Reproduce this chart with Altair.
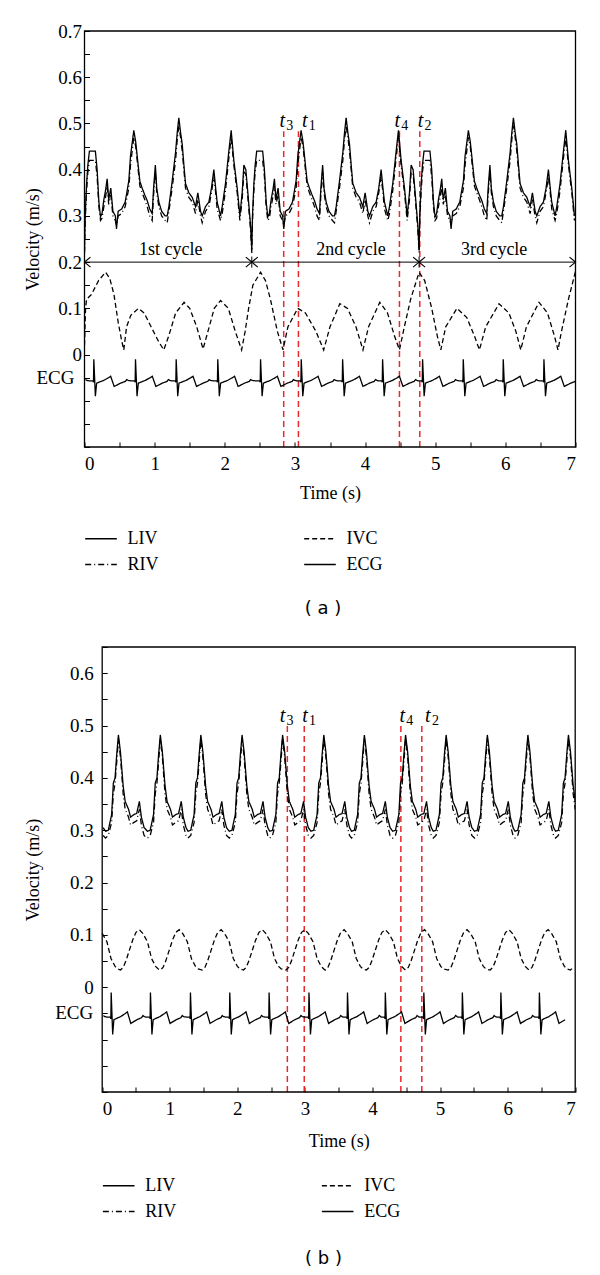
import altair as alt
import pandas as pd

SERIF = "Liberation Serif"
SANS = "DejaVu Sans"
RED = "#e8282b"
NB = "\u00a0"

# ---------------- shared ----------------
SERIES = ["LIV", "RIV", "IVC", "ECG"]
DASHES = [[1, 0], [6, 3, 1, 3], [5, 3], [1, 0]]
# one ECG beat (time relative to R peak, value in plot units)
ECG_DT = [-0.06, -0.012, -0.005, 0.0, 0.022, 0.04, 0.07, 0.14, 0.21, 0.24, 0.29, 0.38, 0.45, 0.47, 0.49]
ECG_V = [-0.057, -0.057, -0.060, -0.010, -0.090, -0.062, -0.060, -0.056, -0.050, -0.047, -0.069, -0.062, -0.058, -0.054, -0.056]
ECG_LABEL = "ECG"
ECG_LABEL_Y = -0.05

# ---------------- panel (a) ----------------
A_CYCLE_STARTS = [0.0, 2.385, 4.77]
A_LIV_T = [0.000, 0.010, 0.030, 0.048, 0.070, 0.155, 0.180, 0.205, 0.228, 0.250,
           0.276, 0.300, 0.323, 0.345, 0.375, 0.405, 0.440, 0.456, 0.480, 0.530,
           0.580, 0.632, 0.656, 0.703, 0.730, 0.751, 0.789, 0.822, 0.860, 0.894,
           0.930, 0.965, 0.985, 1.010, 1.030, 1.060, 1.100, 1.150, 1.179, 1.203,
           1.250, 1.298, 1.322, 1.345, 1.370, 1.393, 1.417, 1.440, 1.488, 1.536,
           1.583, 1.616, 1.654, 1.678, 1.725, 1.773, 1.810, 1.844, 1.870, 1.891,
           1.939, 1.963, 2.010, 2.058, 2.091, 2.129, 2.177, 2.215, 2.248, 2.272,
           2.300, 2.329, 2.367]
A_LIV_V = [0.225, 0.30, 0.37, 0.41, 0.44, 0.44, 0.40, 0.33, 0.298, 0.305,
           0.335, 0.355, 0.38, 0.335, 0.36, 0.31, 0.30, 0.272, 0.31, 0.315,
           0.33, 0.376, 0.43, 0.485, 0.46, 0.43, 0.375, 0.36, 0.345, 0.333,
           0.315, 0.305, 0.36, 0.41, 0.36, 0.33, 0.31, 0.30, 0.30, 0.32,
           0.375, 0.437, 0.48, 0.512, 0.48, 0.455, 0.41, 0.37, 0.35, 0.34,
           0.32, 0.35, 0.31, 0.30, 0.32, 0.33, 0.36, 0.40, 0.36, 0.33,
           0.30, 0.32, 0.37, 0.44, 0.485, 0.42, 0.36, 0.30, 0.35, 0.41,
           0.40, 0.35, 0.28]
A_RIV_V = [0.22, 0.29, 0.355, 0.395, 0.42, 0.42, 0.385, 0.32, 0.29, 0.295,
           0.32, 0.34, 0.365, 0.325, 0.345, 0.30, 0.29, 0.28, 0.30, 0.305,
           0.32, 0.36, 0.41, 0.47, 0.45, 0.42, 0.365, 0.35, 0.335, 0.32,
           0.30, 0.29, 0.345, 0.395, 0.35, 0.32, 0.30, 0.29, 0.285, 0.31,
           0.36, 0.42, 0.465, 0.495, 0.47, 0.44, 0.40, 0.36, 0.34, 0.33,
           0.305, 0.335, 0.30, 0.285, 0.31, 0.32, 0.35, 0.385, 0.35, 0.315,
           0.29, 0.305, 0.355, 0.425, 0.47, 0.41, 0.35, 0.29, 0.335, 0.395,
           0.39, 0.34, 0.27]
A_IVC_T = [0.000, 0.015, 0.030, 0.100, 0.200, 0.300, 0.360, 0.420, 0.480, 0.530,
           0.560, 0.600, 0.660, 0.770, 0.850, 0.950, 1.050, 1.130, 1.200, 1.300,
           1.420, 1.500, 1.600, 1.690, 1.760, 1.850, 1.940, 2.050, 2.150, 2.240,
           2.290, 2.340, 2.400, 2.510, 2.580, 2.650, 2.750, 2.830, 2.900, 3.040,
           3.150, 3.300, 3.410, 3.500, 3.640, 3.750, 3.870, 3.970, 4.050, 4.210,
           4.320, 4.420, 4.490, 4.560, 4.650, 4.770, 4.850, 4.950, 5.030, 5.080,
           5.150, 5.310, 5.450, 5.560, 5.630, 5.720, 5.910, 6.050, 6.150, 6.220,
           6.300, 6.480, 6.600, 6.700, 6.750, 6.800, 6.900, 7.000]
A_IVC_V = [0.02, 0.10, 0.12, 0.13, 0.16, 0.178, 0.165, 0.13, 0.07, 0.03,
           0.01, 0.06, 0.085, 0.10, 0.09, 0.06, 0.03, 0.01, 0.04, 0.09,
           0.113, 0.10, 0.06, 0.012, 0.05, 0.10, 0.117, 0.10, 0.05, 0.01,
           0.05, 0.10, 0.15, 0.178, 0.16, 0.12, 0.05, 0.01, 0.06, 0.10,
           0.09, 0.05, 0.01, 0.06, 0.11, 0.10, 0.06, 0.01, 0.06, 0.113,
           0.09, 0.04, 0.01, 0.06, 0.12, 0.178, 0.16, 0.10, 0.04, 0.01,
           0.06, 0.10, 0.08, 0.04, 0.01, 0.06, 0.11, 0.09, 0.05, 0.01,
           0.06, 0.113, 0.09, 0.04, 0.01, 0.05, 0.12, 0.18]
A_ECG_BEATS = [-0.457, 0.133, 0.727, 1.307, 1.90, 2.51, 3.09, 3.68, 4.25, 4.82, 5.40, 5.97, 6.55]
A_MARK_T = [2.84, 3.05, 4.49, 4.78]
A_MARK_LABEL_T = [2.82, 3.14, 4.46, 4.79]
A_MARK_SUB = ["3", "1", "4", "2"]
A_MARK_TOP = 0.483
A_ARROW_Y = 0.2
A_ARROW_LEFT = [0.0, 2.385, 4.77]
A_ARROW_RIGHT = [2.385, 4.77, 7.0]
A_CYCLE_TICKS = [2.385, 4.77]
A_CYCLE_NAMES = ["1st cycle", "2nd cycle", "3rd cycle"]
A_CYCLE_LABEL_T = [1.23, 3.80, 5.84]
A_CYCLE_LABEL_Y = 0.227
A_Y_TICKS = [-0.2, -0.15, -0.1, -0.05, 0, 0.05, 0.1, 0.15, 0.2, 0.25, 0.3, 0.35,
             0.4, 0.45, 0.5, 0.55, 0.6, 0.65, 0.7]

# ---------------- panel (b) ----------------
B_LIV_PEAKS = [-0.366, 0.24, 0.86, 1.46, 2.07, 2.67, 3.28, 3.88, 4.49, 5.09, 5.70, 6.30, 6.90]
B_LIV_DT = [-0.19, -0.15, -0.10, -0.075, -0.05, -0.025, 0.0, 0.03, 0.07, 0.10,
            0.15, 0.18, 0.23, 0.27, 0.31, 0.34, 0.38]
B_LIV_V = [0.298, 0.30, 0.33, 0.39, 0.40, 0.445, 0.482, 0.45, 0.385, 0.355,
           0.34, 0.325, 0.33, 0.332, 0.355, 0.325, 0.305]
B_RIV_V = [0.285, 0.29, 0.315, 0.37, 0.39, 0.43, 0.475, 0.44, 0.37, 0.34,
           0.325, 0.31, 0.315, 0.318, 0.34, 0.31, 0.29]
B_IVC_TROUGHS = [-0.33, 0.27, 0.86, 1.48, 2.09, 2.72, 3.30, 3.91, 4.49, 5.12, 5.74, 6.32, 6.93]
B_IVC_DT = [0.0, 0.04, 0.08, 0.13, 0.18, 0.23, 0.28, 0.33, 0.40, 0.46, 0.52, 0.56]
B_IVC_V = [0.033, 0.038, 0.05, 0.07, 0.09, 0.105, 0.110, 0.103, 0.087, 0.055, 0.04, 0.035]
B_ECG_BEATS = [-0.452, 0.133, 0.714, 1.306, 1.888, 2.47, 3.06, 3.63, 4.19, 4.76, 5.33, 5.90, 6.47]
B_ECG_END = 6.9
B_MARK_T = [2.74, 2.99, 4.42, 4.73]
B_MARK_LABEL_T = [2.667, 3.0, 4.44, 4.82]
B_MARK_SUB = ["3", "1", "4", "2"]
B_MARK_TOP = 0.50
B_Y_TICKS = [-0.2, -0.15, -0.1, -0.05, 0, 0.05, 0.1, 0.15, 0.2, 0.25, 0.3, 0.35,
             0.4, 0.45, 0.5, 0.55, 0.6, 0.65]

X_TICKS = [0, 0.5, 1, 1.5, 2, 2.5, 3, 3.5, 4, 4.5, 5, 5.5, 6, 6.5, 7]
T_DOMAIN = [0, 7]
CAPTIONS = ["( a )", "( b )"]


def periodic(starts, dts, vals):
    ts, vs = [], []
    for s in starts:
        for d, v in zip(dts, vals):
            ts.append(round(s + d, 4))
            vs.append(v)
    return ts, vs


def frame(name, ts, vs):
    return pd.DataFrame({"t": ts, "v": vs, "series": name})


def keep(df):
    return df[(df["t"] >= T_DOMAIN[0]) & (df["t"] <= T_DOMAIN[1])]


def series_df_a():
    lt, lv = periodic(A_CYCLE_STARTS, A_LIV_T, A_LIV_V)
    rt, rv = periodic(A_CYCLE_STARTS, A_LIV_T, A_RIV_V)
    et, ev = periodic(A_ECG_BEATS, ECG_DT, ECG_V)
    return keep(pd.concat([frame("RIV", rt, rv), frame("LIV", lt, lv),
                           frame("IVC", A_IVC_T, A_IVC_V), frame("ECG", et, ev)]))


def series_df_b():
    lt, lv = periodic(B_LIV_PEAKS, B_LIV_DT, B_LIV_V)
    rt, rv = periodic(B_LIV_PEAKS, B_LIV_DT, B_RIV_V)
    it, iv = periodic(B_IVC_TROUGHS, B_IVC_DT, B_IVC_V)
    et, ev = periodic(B_ECG_BEATS, ECG_DT, ECG_V)
    e = frame("ECG", et, ev)
    e = e[e["t"] <= B_ECG_END]
    return keep(pd.concat([frame("RIV", rt, rv), frame("LIV", lt, lv),
                           frame("IVC", it, iv), e]))


def y_label_expr(zero_label):
    return ("(datum.value > -0.001 && abs(datum.value * 10 - round(datum.value * 10)) < 0.001) ? "
            "(abs(datum.value) < 0.001 ? '" + zero_label + "' : format(datum.value, '.1f')) : ''")


X_LABEL_EXPR = "abs(datum.value - round(datum.value)) < 0.001 ? format(datum.value, 'd') : ''"


def panel(df, ydom, yticks, width, height, x_range, y_offset, y_lpad, zero_label, ecg_dx,
          title_y, title_x, mark_t, mark_label_t, mark_sub, mark_top,
          legend_x, legend_y, col_pad, row_pad, caption, cap_x, cap_y):
    xs = alt.Scale(domain=T_DOMAIN, range=x_range, nice=False, zero=False)
    ys = alt.Scale(domain=ydom, nice=False, zero=False)
    xaxis = alt.Axis(values=X_TICKS, labelExpr=X_LABEL_EXPR,
                     title="Time (s)", titleY=title_y, offset=-5, tickSize=5, tickColor="black",
                     tickWidth=1, domain=False, grid=False, labelPadding=7,
                     labelFont=SERIF, labelFontSize=19, labelColor="black", labelOverlap=False,
                     titleFont=SERIF, titleFontSize=18, titleFontWeight="normal", titleColor="black")
    yaxis = alt.Axis(values=yticks, labelExpr=y_label_expr(zero_label), title="Velocity (m/s)",
                     titleX=title_x, titleY=height / 2, offset=y_offset, tickSize=5,
                     tickColor="black", tickWidth=1, domain=False, grid=False,
                     labelPadding=y_lpad,
                     labelFont=SERIF, labelFontSize=19, labelColor="black", labelOverlap=False,
                     titleFont=SERIF, titleFontSize=18, titleFontWeight="normal", titleColor="black")

    def X(field):
        return alt.X(field, scale=xs, axis=xaxis)

    def Y(field):
        return alt.Y(field, scale=ys, axis=yaxis)

    box = alt.Chart(pd.DataFrame({"x0": [T_DOMAIN[0]], "x1": [T_DOMAIN[1]],
                                  "y0": [ydom[0]], "y1": [ydom[1]]})).mark_rect(
        fillOpacity=0, stroke="black", strokeWidth=1.3).encode(
        x=X("x0:Q"), x2="x1:Q", y=Y("y0:Q"), y2="y1:Q")

    lines = alt.Chart(df).mark_line(clip=True, color="black", strokeWidth=1.3).encode(
        x=X("t:Q"),
        y=Y("v:Q"),
        strokeDash=alt.StrokeDash(
            "series:N",
            scale=alt.Scale(domain=SERIES, range=DASHES),
            legend=alt.Legend(orient="none", legendX=legend_x, legendY=legend_y, columns=2,
                              direction="vertical",
                              title=None, symbolType="stroke", symbolSize=1000,
                              symbolStrokeWidth=1.3, symbolStrokeColor="black",
                              labelFont=SERIF, labelFontSize=18, labelColor="black",
                              labelOffset=10, columnPadding=col_pad, rowPadding=row_pad,
                              padding=0),
        ),
        detail="series:N",
        order="t:Q",
    )

    mk = pd.DataFrame({"t": mark_t, "lt": mark_label_t, "sub": mark_sub,
                       "y0": [ydom[0]] * len(mark_t), "y1": [mark_top] * len(mark_t)})
    red = alt.Chart(mk).mark_rule(color=RED, strokeDash=[6, 4], strokeWidth=1.5).encode(
        x=X("t:Q"), y=Y("y0:Q"), y2="y1:Q")
    tl = alt.Chart(mk).mark_text(font=SERIF, fontStyle="italic", fontSize=20, align="center",
                                 baseline="alphabetic", dy=-4, color="black").encode(
        x=X("lt:Q"), y=Y("y1:Q"), text=alt.value("t"))
    ts = alt.Chart(mk).mark_text(font=SERIF, fontSize=14, align="left",
                                 baseline="alphabetic", dx=4, dy=-1, color="black").encode(
        x=X("lt:Q"), y=Y("y1:Q"), text="sub:N")

    ecg = alt.Chart(pd.DataFrame({"t": [T_DOMAIN[0]], "v": [ECG_LABEL_Y], "txt": [ECG_LABEL]})).mark_text(
        font=SERIF, fontSize=19, align="right", baseline="middle", dx=ecg_dx, color="black").encode(
        x=X("t:Q"), y=Y("v:Q"), text="txt:N")

    cap = alt.Chart(pd.DataFrame({"c": [caption]})).mark_text(
        font=SANS, fontSize=18, align="center", baseline="middle", color="black").encode(
        x=alt.value(cap_x), y=alt.value(cap_y), text="c:N")

    return [red, lines, tl, ts, ecg, cap, box], X, Y


# ---- panel a ----
WA, HA = 491, 416
layers_a, XA, YA = panel(series_df_a(), [-0.2, 0.7], A_Y_TICKS, WA, HA, [0, WA], -5, 3,
                         "0" + NB + NB, -10, 42, -47.5,
                         A_MARK_T, A_MARK_LABEL_T, A_MARK_SUB, A_MARK_TOP,
                         0, 491, 143, -3, CAPTIONS[0], 238.5, 578)

arr = pd.DataFrame({"x0": [A_ARROW_LEFT[0]], "x1": [A_ARROW_RIGHT[-1]], "y": [A_ARROW_Y]})
arrow_line = alt.Chart(arr).mark_rule(color="black", strokeWidth=1).encode(
    x=XA("x0:Q"), x2="x1:Q", y=YA("y:Q"))
heads_l = alt.Chart(pd.DataFrame({"t": A_ARROW_LEFT, "y": [A_ARROW_Y] * 3})).mark_point(
    shape="M 1.2 -1 L 0 0 L 1.2 1", filled=False, size=100, color="black", strokeWidth=1.2,
    opacity=1).encode(x=XA("t:Q"), y=YA("y:Q"))
heads_r = alt.Chart(pd.DataFrame({"t": A_ARROW_RIGHT, "y": [A_ARROW_Y] * 3})).mark_point(
    shape="M -1.2 -1 L 0 0 L -1.2 1", filled=False, size=100, color="black", strokeWidth=1.2,
    opacity=1).encode(x=XA("t:Q"), y=YA("y:Q"))
ctk = pd.DataFrame({"t": A_CYCLE_TICKS, "y0": [A_ARROW_Y - 0.012] * 2, "y1": [A_ARROW_Y + 0.012] * 2})
cycle_ticks = alt.Chart(ctk).mark_rule(color="black", strokeWidth=1).encode(
    x=XA("t:Q"), y=YA("y0:Q"), y2="y1:Q")
clab = pd.DataFrame({"t": A_CYCLE_LABEL_T, "y": [A_CYCLE_LABEL_Y] * 3, "txt": A_CYCLE_NAMES})
cycle_text = alt.Chart(clab).mark_text(font=SERIF, fontSize=18, align="center",
                                       baseline="middle", color="black").encode(
    x=XA("t:Q"), y=YA("y:Q"), text="txt:N")

chart_a = alt.layer(*layers_a, arrow_line, heads_l, heads_r, cycle_ticks, cycle_text).properties(
    width=WA, height=HA)

# ---- panel b (plot frame sits 17.7 px right of panel a's) ----
SHIFT_B = 17.7
WB, HB = 473 + SHIFT_B, 445
layers_b, XB, YB = panel(series_df_b(), [-0.2, 0.65], B_Y_TICKS, WB, HB, [SHIFT_B, WB],
                         -(SHIFT_B + 5), 9, "0", -9, 45, -65.2,
                         B_MARK_T, B_MARK_LABEL_T, B_MARK_SUB, B_MARK_TOP,
                         SHIFT_B, 522, 143, -1, CAPTIONS[1], 239, 612)
chart_b = alt.layer(*layers_b).properties(width=WB, height=HB)

chart = alt.vconcat(chart_a, chart_b, spacing=20).resolve_scale(
    strokeDash="independent").resolve_legend(strokeDash="independent").properties(
    padding={"left": 15.5, "top": 14, "right": 5, "bottom": 5}, background="white"
).configure_view(stroke=None).configure_axis(
    labelFont=SERIF, titleFont=SERIF).configure_text(font=SERIF)

chart.save("out.html", embed_options={"renderer": "svg", "actions": False})
